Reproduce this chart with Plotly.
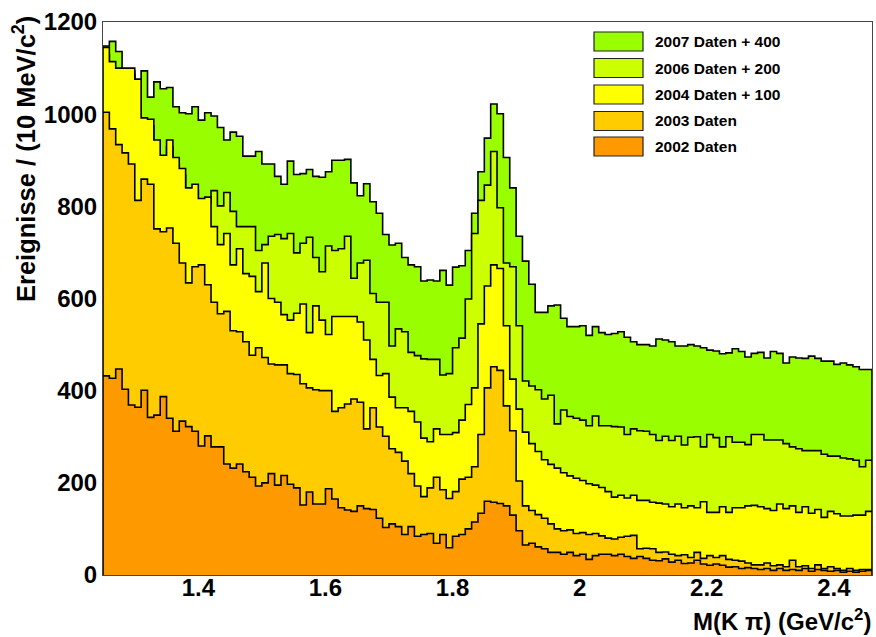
import plotly.graph_objects as go

# ---------------- data (bin contents, 10 MeV bins starting at 1.25 GeV) ----------------
x_start = 1.25
bin_width = 0.01

labels = ["2007 Daten + 400", "2006 Daten + 200", "2004 Daten + 100", "2003 Daten", "2002 Daten"]
colors = ["#99ff00", "#ccff00", "#ffff00", "#ffcc00", "#ff9900"]

h2007_plus400 = [
    1148, 1158, 1136, 1095, 1093, 1070, 1094, 1037, 1070, 1055, 1058, 1016, 1003, 1001, 1016, 987, 1003, 996, 971, 944,
    961, 952, 909, 909, 919, 892, 892, 865, 848, 898, 869, 871, 880, 865, 863, 875, 900, 900, 902,
    851, 823, 849, 810, 785, 739, 716, 720, 689, 673, 669, 638, 640, 638, 661, 629, 668, 671, 704, 785,
    875, 948, 1022, 1001, 906, 840, 735, 681, 631, 570, 570, 584, 586, 557, 539, 539, 541, 520, 539, 526,
    522, 524, 528, 516, 506, 500, 500, 497, 512, 510, 506, 497, 497, 500, 497, 493, 488, 486, 480, 482,
    491, 485, 473, 481, 483, 471, 485, 481, 460, 473, 471, 470, 475, 470, 464, 464, 457, 460, 456, 452, 446, 446,
]

h2006_plus200 = [
    1130, 1100, 1085, 1085, 1085, 1060, 978, 975, 930, 897, 930, 892, 868, 826, 834, 803, 806,
    834, 801, 830,
    789, 756, 756, 756, 704, 717, 735, 739, 730, 741, 699, 720, 733, 689, 658, 714, 704, 708, 735,
    644, 677, 683, 611, 592, 592, 497, 534, 528, 483, 476, 469, 468, 468, 434, 437, 493, 514, 599, 741,
    813, 846, 919, 797, 677, 669, 541, 421, 410, 402, 382, 390, 328, 358, 344, 340, 336, 324, 345, 324,
    324, 322, 321, 305, 317, 313, 312, 305, 292, 301, 292, 301, 282, 299, 300, 278, 305, 298, 278, 300,
    288, 288, 283, 305, 305, 293, 293, 293, 285, 278, 274, 270, 270, 270, 262, 258, 258, 254, 252, 249, 235, 249,
]

h2004_plus100 = [
    1145, 1114, 1100, 1100, 1100, 1076, 992, 989, 944, 911, 944, 906, 882, 840, 848, 817, 820, 756, 717, 741,
    673, 708, 654, 648, 615, 677, 600, 592, 565, 553, 568, 588, 526, 584, 553, 522, 561, 561, 561,
    561, 549, 510, 468, 433, 437, 386, 363, 363, 355, 332, 297, 289, 317, 305, 305, 309, 336, 370, 406,
    545, 627, 673, 665,
    541, 425, 360, 310, 285, 268, 250, 240, 232, 222, 215, 210, 205, 198, 195, 190,
    181, 169, 173, 167, 173, 162, 162, 158, 156, 154, 148, 154, 146, 150, 146, 159, 136, 136, 148, 136,
    146, 146, 150, 151, 148, 144, 140, 154, 144, 150, 136, 148, 134, 142, 125, 138, 133, 128, 128, 130, 130, 138,
]

h2003 = [
    1004, 968, 934, 916, 892, 813, 859, 848, 751, 745, 753, 720, 677, 634, 669, 673, 630, 592, 567, 572,
    530, 528, 506, 477, 493, 472, 458, 456, 456, 437, 435, 415, 406, 402, 400, 400, 355, 363, 371,
    382, 375, 317, 363, 321, 301, 274, 266, 247, 220, 193, 170, 189, 212, 185, 166, 181, 208, 212, 235,
    305, 406, 452, 444, 367, 313, 204,
    150, 140, 131, 123, 111, 100, 96, 98, 90, 92, 88, 90, 85,
    80, 78, 82, 84, 86, 57, 58, 57, 49, 50, 45, 42, 44, 38, 49, 36, 42, 38, 42, 34,
    32, 30, 26, 22, 22, 26, 20, 22, 18, 32, 18, 20, 14, 22, 14, 18, 14, 10, 14, 10, 12, 12,
]

h2002 = [
    432, 427, 447, 403, 369, 364, 401, 342, 347, 387, 340, 312, 334, 322, 312, 280, 302, 278, 278, 241, 232, 241, 224,
    212, 193, 200, 220, 195, 216, 197, 189, 152, 180, 154, 154, 187, 165, 146, 141,
    138, 150, 144, 142, 123, 103, 111, 105, 88, 105, 84, 88, 90, 69, 88, 59, 84, 88, 100, 115,
    134, 160, 158, 155,
    150, 130, 96, 65, 69, 61, 57, 49, 49, 45, 49, 42, 45, 34, 42, 45,
    45, 42, 45, 40, 36, 40, 36, 32, 31, 35, 28, 32, 25, 26, 32, 24, 21, 24, 21, 17,
    18, 14, 16, 14, 12, 14, 10, 14, 10, 12, 10, 14, 8, 12, 10, 8, 10, 6, 8, 6, 8, 10,
]

y_ticks = [0, 200, 400, 600, 800, 1000, 1200]
x_ticks = [1.4, 1.6, 1.8, 2.0, 2.2, 2.4]
x_ticktext = ["1.4", "1.6", "1.8", "2", "2.2", "2.4"]

series = [h2007_plus400, h2006_plus200, h2004_plus100, h2003, h2002]

# ---------------- figure ----------------
W, H = 876, 637
ML, MR, MT, MB = 103, 4, 22, 62
FONT = "Liberation Sans, Arial, Helvetica, sans-serif"

n_bins = len(h2002)
edges = [round(x_start + i * bin_width, 4) for i in range(n_bins + 1)]
x_end = edges[-1]

fig = go.Figure()
for name, col, vals in zip(labels, colors, series):
    xs = [edges[0]] + edges + [x_end]
    ys = [0] + list(vals) + [vals[-1], 0]
    fig.add_trace(go.Scatter(
        x=xs, y=ys, mode="lines", name=name,
        line=dict(shape="hv", color="black", width=1.6),
        fill="tozeroy", fillcolor=col, showlegend=False, hoverinfo="skip",
    ))

fig.update_layout(
    width=W, height=H,
    margin=dict(l=ML, r=MR, t=MT, b=MB, pad=0),
    paper_bgcolor="white", plot_bgcolor="white",
    font=dict(family=FONT, color="black"),
    showlegend=False,
)
fig.update_xaxes(
    range=[x_start, x_end], tickvals=x_ticks, ticktext=x_ticktext,
    tickfont=dict(family=FONT, size=24, color="black", weight="bold"),
    showgrid=False, zeroline=False, ticks="", showline=True, mirror=True,
    linecolor="#444", linewidth=1, layer="below traces", ticklabelstandoff=-9,
)
fig.update_yaxes(
    range=[0, 1200], tickvals=y_ticks,
    tickfont=dict(family=FONT, size=24, color="black", weight="bold"),
    showgrid=False, zeroline=False, ticks="", showline=True, mirror=True,
    linecolor="#444", linewidth=1, layer="below traces", ticklabelstandoff=0,
)

plot_w = W - ML - MR
plot_h = H - MT - MB


def px_x(p):
    return (p - ML) / plot_w


def px_y(p):
    return (H - MB - p) / plot_h


# axis titles
fig.add_annotation(
    text="M(K π) (GeV/c<sup>2</sup>)", xref="paper", yref="paper",
    x=px_x(873), y=px_y(620), xanchor="right", yanchor="middle", showarrow=False,
    font=dict(family=FONT, size=24, color="black", weight="bold"),
)
fig.add_annotation(
    text="Ereignisse / (10 MeV/c<sup>2</sup>)", xref="paper", yref="paper",
    x=px_x(24), y=px_y(14), xanchor="center", yanchor="top", textangle=-90, showarrow=False,
    font=dict(family=FONT, size=25.5, color="black", weight="bold"),
)

# legend drawn as boxes + text
leg_centers = [41.5, 68, 94.5, 121, 146.5]
for name, col, cy in zip(labels, colors, leg_centers):
    fig.add_shape(
        type="rect", xref="paper", yref="paper",
        x0=px_x(594), x1=px_x(643), y0=px_y(cy + 9.5), y1=px_y(cy - 9.5),
        fillcolor=col, line=dict(color="#222", width=1.2),
    )
    fig.add_annotation(
        text=name, xref="paper", yref="paper", x=px_x(653), y=px_y(cy),
        xanchor="left", yanchor="middle", showarrow=False,
        font=dict(family=FONT, size=15.5, color="black", weight="bold"),
    )

fig.write_html("out.html")
